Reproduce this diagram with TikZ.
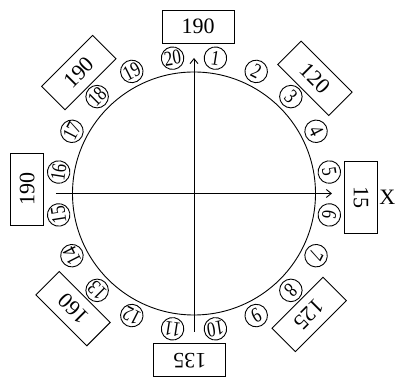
\documentclass[tikz,border=0pt]{standalone}
\usepackage{fontspec}
\setmainfont{Liberation Serif}
\usetikzlibrary{positioning, arrows.meta}

\begin{document}
\begin{tikzpicture}[x=1pt, y=1pt, line width=0.9pt,
    valbox/.style={draw, minimum width=72pt, minimum height=33pt, inner sep=0pt,
      font=\fontsize{22}{22}\selectfont},
    seat/.style={draw, circle, minimum size=22.5pt, inner sep=0pt,
      font=\fontsize{21}{21}\selectfont}]
  \useasboundingbox (-194,-185.5) rectangle (203,193.5);
  \node[draw, circle, minimum size=243pt, inner sep=0pt] (ring) at (0,0) {};

  % axes
  \coordinate (west) at (-138,0);
  \coordinate (east) at (138,0);
  \coordinate (south) at (0,-138.5);
  \coordinate (north) at (0,135.5);
  \draw[-{Straight Barb[length=5pt,width=8pt]}] (west) -- (east);
  \draw[-{Straight Barb[length=5pt,width=8pt]}] (south) -- (north);

  % numbered seats round the ring
  \foreach \k in {1,...,20}{
    \pgfmathsetmacro\a{81-18*(\k-1)}
    \node[seat, rotate=\a-90] (s\k) at (\a:137) {\scalebox{0.8}[1]{\k}};
  }

  % values
  \foreach \a/\t [count=\i] in {90/190, 45/120, 0/15, -45/125, -90/135,
                                -135/160, 180/190, 135/190}
    \node[valbox, rotate=\a-90] (b\i) at (\a-1.4:167) {\t};

  \node[right=0pt of b3.north, inner xsep=1pt, font=\fontsize{22}{22}\selectfont] (xlab) {X};
\end{tikzpicture}
\end{document}
